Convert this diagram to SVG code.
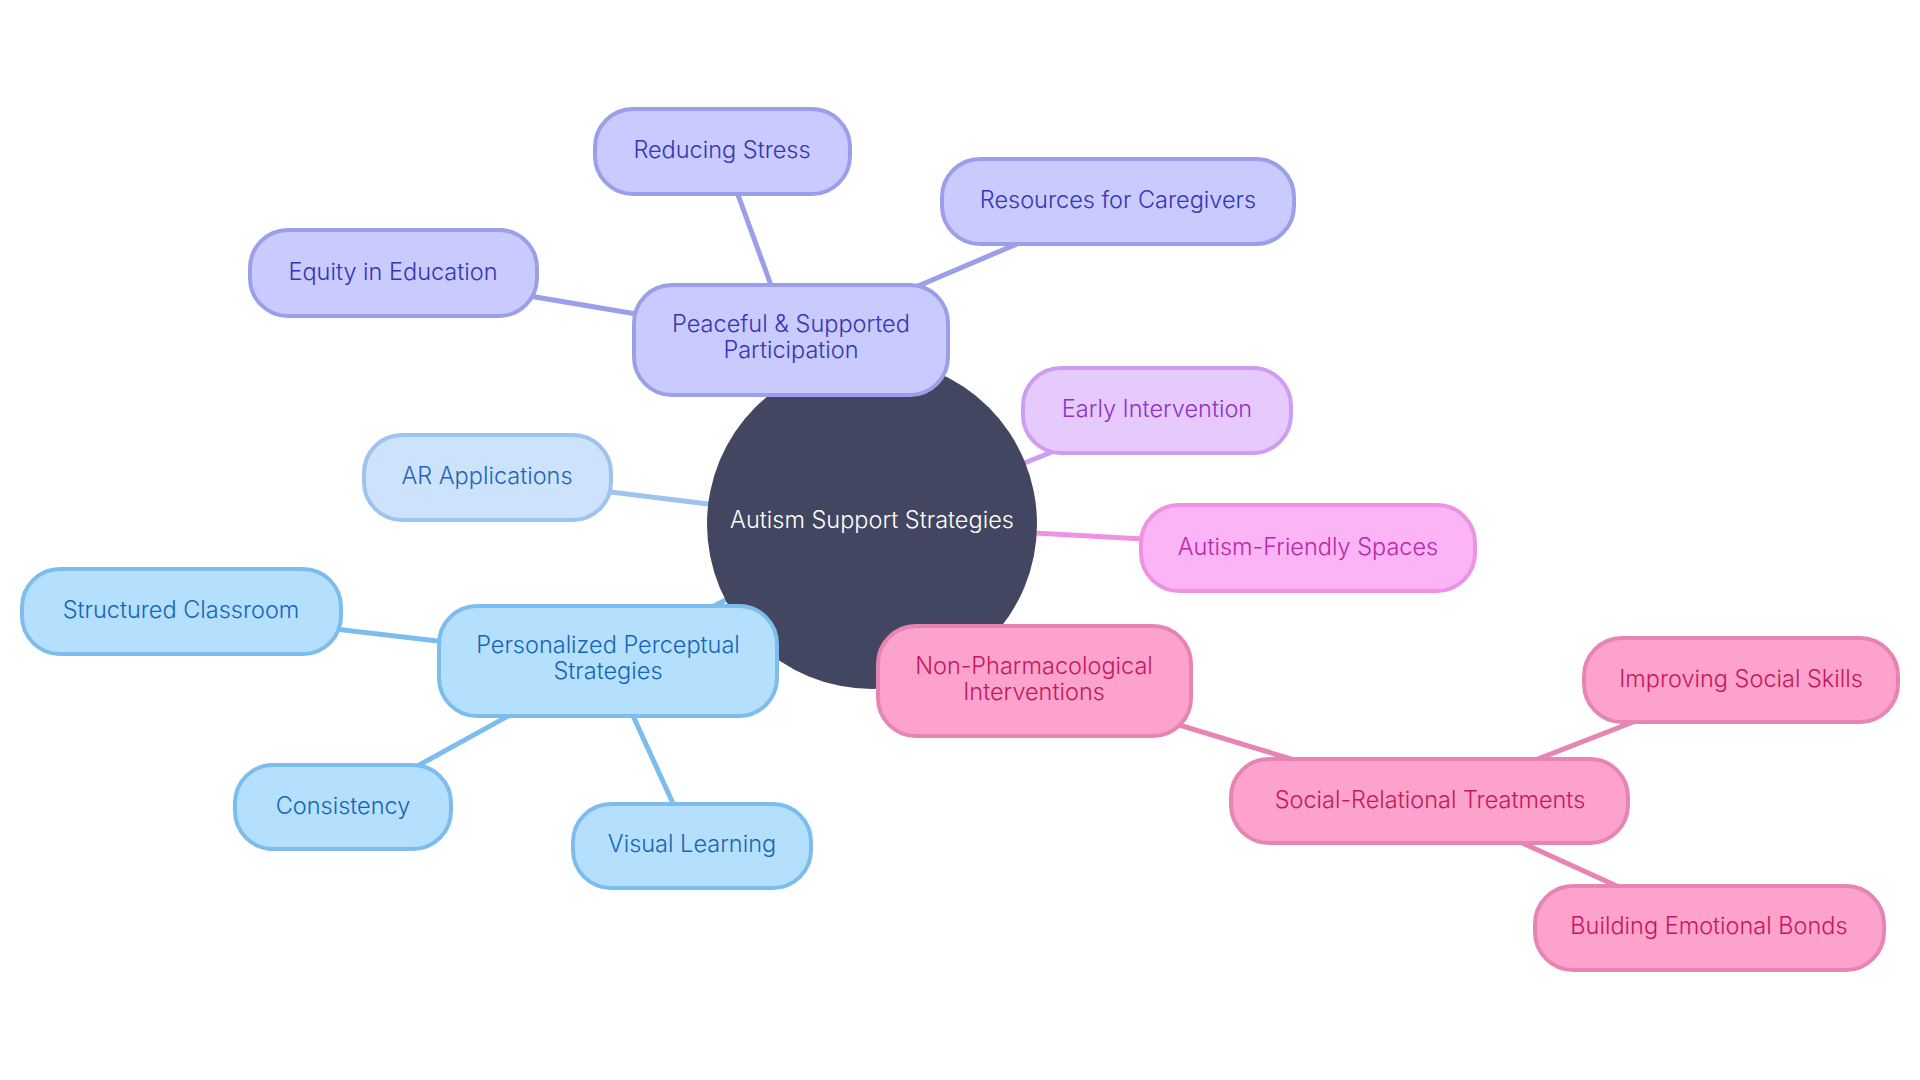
<svg xmlns="http://www.w3.org/2000/svg" width="1920" height="1080" viewBox="0 0 1920 1080">
<style>
  text { font-family: "Inter", "Open Sans", "Liberation Sans", sans-serif; font-size: 23.5px; font-weight: 300; text-anchor: middle; }
  .box { stroke-width: 4; }
  .c { fill: none; stroke-width: 5; stroke-linecap: round; }
  .p .box { fill: #c9cafd; stroke: #9b9ee9; } .p text { fill: #3535b5; }
  .b .box { fill: #b5e0fd; stroke: #7dbdee; } .b text { fill: #1565b8; }
  .ar .box { fill: #cde3fb; stroke: #9cc4ee; } .ar text { fill: #1e63c0; }
  .ei .box { fill: #e6cafd; stroke: #cf9df0; } .ei text { fill: #9030c8; }
  .af .box { fill: #fbb4f5; stroke: #ee92e2; } .af text { fill: #b52aa6; }
  .k .box { fill: #fca2cc; stroke: #e684b4; } .k text { fill: #c2185b; }
</style>
<rect width="1920" height="1080" fill="#ffffff"/>
<g id="connectors">
  <line class="c" stroke="#9b9ee9" x1="872" y1="524" x2="791" y2="340"/>
  <line class="c" stroke="#9b9ee9" x1="722" y1="151" x2="791" y2="340"/>
  <line class="c" stroke="#9b9ee9" x1="1118" y1="201" x2="791" y2="340"/>
  <line class="c" stroke="#9b9ee9" x1="393" y1="273" x2="791" y2="340"/>
  <line class="c" stroke="#cf9df0" x1="872" y1="524" x2="1157" y2="410"/>
  <line class="c" stroke="#9cc4ee" x1="872" y1="524" x2="487" y2="477"/>
  <line class="c" stroke="#ee92e2" x1="872" y1="524" x2="1308" y2="548"/>
  <line class="c" stroke="#7dbdee" x1="872" y1="524" x2="608" y2="661"/>
  <line class="c" stroke="#7dbdee" x1="181" y1="611" x2="608" y2="661"/>
  <line class="c" stroke="#7dbdee" x1="343" y1="807" x2="608" y2="661"/>
  <line class="c" stroke="#7dbdee" x1="692" y1="845" x2="608" y2="661"/>
  <line class="c" stroke="#e684b4" x1="872" y1="524" x2="1034" y2="681"/>
  <line class="c" stroke="#e684b4" x1="1034" y1="681" x2="1430" y2="801"/>
  <line class="c" stroke="#e684b4" x1="1741" y1="680" x2="1430" y2="801"/>
  <line class="c" stroke="#e684b4" x1="1709" y1="928" x2="1430" y2="801"/>
</g>
<g id="root">
  <circle cx="872" cy="524" r="165" fill="#424660"/>
  <text x="872" y="528" fill="#ffffff">Autism Support Strategies</text>
</g>
<g id="peaceful" class="p">
  <rect class="box" x="634" y="285" width="314" height="110" rx="38"/>
  <text x="791" y="332">Peaceful &amp; Supported</text>
  <text x="791" y="358">Participation</text>
</g>
<g id="reducing-stress" class="p">
  <rect class="box" x="595" y="109" width="255" height="85" rx="38"/>
  <text x="722" y="158">Reducing Stress</text>
</g>
<g id="resources" class="p">
  <rect class="box" x="942" y="159" width="352" height="85" rx="38"/>
  <text x="1118" y="208">Resources for Caregivers</text>
</g>
<g id="equity" class="p">
  <rect class="box" x="250" y="230" width="287" height="86" rx="38"/>
  <text x="393" y="280">Equity in Education</text>
</g>
<g id="early-intervention" class="ei">
  <rect class="box" x="1023" y="368" width="268" height="85" rx="38"/>
  <text x="1157" y="417">Early Intervention</text>
</g>
<g id="ar-applications" class="ar">
  <rect class="box" x="364" y="435" width="247" height="85" rx="38"/>
  <text x="487" y="484">AR Applications</text>
</g>
<g id="autism-friendly" class="af">
  <rect class="box" x="1141" y="505" width="334" height="86" rx="38"/>
  <text x="1308" y="555">Autism-Friendly Spaces</text>
</g>
<g id="personalized" class="b">
  <rect class="box" x="439" y="606" width="338" height="110" rx="38"/>
  <text x="608" y="653">Personalized Perceptual</text>
  <text x="608" y="679">Strategies</text>
</g>
<g id="structured" class="b">
  <rect class="box" x="22" y="569" width="319" height="85" rx="38"/>
  <text x="181" y="618">Structured Classroom</text>
</g>
<g id="consistency" class="b">
  <rect class="box" x="235" y="765" width="216" height="84" rx="38"/>
  <text x="343" y="814">Consistency</text>
</g>
<g id="visual-learning" class="b">
  <rect class="box" x="573" y="804" width="238" height="84" rx="38"/>
  <text x="692" y="852">Visual Learning</text>
</g>
<g id="non-pharm" class="k">
  <rect class="box" x="878" y="626" width="313" height="110" rx="38"/>
  <text x="1034" y="674">Non-Pharmacological</text>
  <text x="1034" y="700">Interventions</text>
</g>
<g id="social-relational" class="k">
  <rect class="box" x="1231" y="759" width="397" height="84" rx="38"/>
  <text x="1430" y="808">Social-Relational Treatments</text>
</g>
<g id="improving" class="k">
  <rect class="box" x="1584" y="638" width="314" height="84" rx="38"/>
  <text x="1741" y="687">Improving Social Skills</text>
</g>
<g id="building" class="k">
  <rect class="box" x="1535" y="886" width="349" height="84" rx="38"/>
  <text x="1709" y="934">Building Emotional Bonds</text>
</g>
</svg>
